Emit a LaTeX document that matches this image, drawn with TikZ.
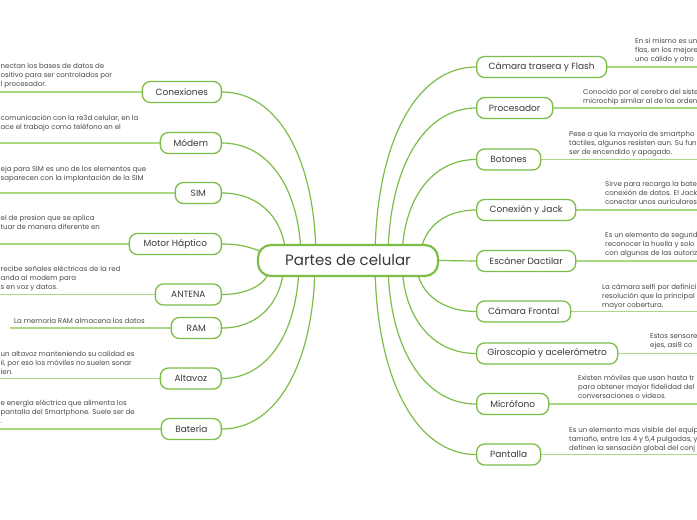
\documentclass[tikz,border=0pt]{standalone}
\usepackage{fontspec}
\setmainfont{Poppins}
\usetikzlibrary{calc,backgrounds}
\definecolor{mg}{RGB}{124,189,72}
\definecolor{lg}{RGB}{172,216,134}
\definecolor{tc}{RGB}{58,58,58}
\definecolor{dc}{RGB}{72,72,72}
\tikzset{
  rootbox/.style={draw=mg, line width=2.2pt, rounded corners=13pt, fill=white,
    minimum width=180pt, minimum height=31pt, font=\fontsize{15}{18}\selectfont, text=tc, inner sep=0pt},
  branch/.style={draw=mg, line width=1.3pt, rounded corners=8pt, fill=white,
    minimum height=21pt, font=\fontsize{9}{11}\selectfont, text=tc, inner sep=0pt},
  lbranch/.style={branch, anchor=east},
  rbranch/.style={branch, anchor=west},
  conn/.style={draw=mg, line width=1.2pt},
  descline/.style={draw=lg, line width=1.5pt},
  desc/.style={font=\fontsize{7}{9}\selectfont, text=dc, align=left, inner sep=0pt, anchor=north west},
}
\begin{document}
\begin{tikzpicture}[x=1pt,y=-1pt]
\useasboundingbox (0,0) rectangle (697,520);
\clip (0,0) rectangle (697,520);
\coordinate (L) at (0,0);
\coordinate (Lr) at (10,0);
\coordinate (R) at (697,0);

\node[rootbox] (root) at (348,260.5) {Partes de celular};

% left branches
\node[lbranch, minimum width=79pt] (l1) at (222,92) {Conexiones};
\node[lbranch, minimum width=61pt] (l2) at (222,143) {Módem};
\node[lbranch, minimum width=46pt] (l3) at (222,193) {SIM};
\node[lbranch, minimum width=92pt] (l4) at (222,244) {Motor Háptico};
\node[lbranch, minimum width=66pt] (l5) at (222,294.5) {ANTENA};
\node[lbranch, minimum width=50pt] (l6) at (222,328) {RAM};
\node[lbranch, minimum width=61pt] (l7) at (222,378.5) {Altavoz};
\node[lbranch, minimum width=60pt] (l8) at (222,429) {Batería};

% right branches
\node[rbranch, minimum width=130pt] (r1) at (476,67) {Cámara trasera y Flash};
\node[rbranch, minimum width=76pt] (r2) at (476,108) {Procesador};
\node[rbranch, minimum width=64pt] (r3) at (476,159.5) {Botones};
\node[rbranch, minimum width=99pt] (r4) at (476,210) {Conexión y Jack};
\node[rbranch, minimum width=99pt] (r5) at (476,261) {Escáner Dactilar};
\node[rbranch, minimum width=94pt] (r6) at (476,311.5) {Cámara Frontal};
\node[rbranch, minimum width=141pt] (r7) at (476,353.5) {Giroscopio y acelerómetro};
\node[rbranch, minimum width=72pt] (r8) at (476,404) {Micrófono};
\node[rbranch, minimum width=64pt] (r9) at (476,454.5) {Pantalla};

% left descriptions
\node[desc] (dl1) at (0.5,61.7) {\strut nectan los bases de  datos de\\ositivo para ser controlados por\\l procesador.};
\node[desc] (dl2) at (0.5,113.7) {\strut comunicación con la re3d celular, en la\\ace el trabajo como teléfono en el};
\node[desc] (dl3) at (0.5,164.7) {\strut eja  para SIM es uno de los elementos que\\saparecen con la implantación de la SIM};
\node[desc] (dl4) at (0.5,213.7) {\strut el de presion que se aplica\\tuar de manera diferente en};
\node[desc] (dl5) at (0.5,264.7) {\strut recibe señales eléctricas de la red\\anda al modem para\\s en voz y datos.};
\node[desc] (dl6) at (14,316.7) {\strut La memoria RAM almacena los datos};
\node[desc] (dl7) at (0.5,349.7) {\strut un altavoz manteniendo su calidad es\\il, por eso los móviles no suelen sonar\\ien.};
\node[desc] (dl8) at (0.5,398.7) {\strut e energía eléctrica que alimenta los\\ pantalla del Smartphone. Suele ser de\\.};

% right descriptions
\node[desc] (dr1) at (635,36.7) {\strut En si mismo es un\\flas, en los mejore\\uno cálido y otro};
\node[desc] (dr2) at (583,87.7) {\strut Conocido por el cerebro del siste\\microchip similar al de los orden};
\node[desc] (dr3) at (569,129.7) {\strut Pese a que la mayoria  de smartpho\\táctiles, algunos resisten aun. Su fun\\ser de encendido y apagado.};
\node[desc] (dr4) at (605,179.7) {\strut Sirve para recarga la bate\\conexión de datos. El Jack\\conectar unos auriculares.};
\node[desc] (dr5) at (605,230.7) {\strut Es un elemento de segurid\\reconocer la huella y solo\\con algunas de las autoriz};
\node[desc] (dr6) at (602,282.7) {\strut La cámara selfi por definici\\resolución que la principal\\mayor cobertura.};
\node[desc] (dr7) at (650,331.7) {\strut Estos sensore\\ejes, asi8 co};
\node[desc] (dr8) at (578,373.7) {\strut Existen móviles  que usan hasta tr\\para obtener mayor fidelidad del\\conversaciones o videos.};
\node[desc] (dr9) at (569,425.7) {\strut Es un  elemento mas visible del equip\\tamaño, entre las 4 y 5,4 pulgadas, y\\definen la sensación global del conj};

\begin{scope}[on background layer]
% connectors left
\draw[conn] ($(root.center)+(-32,0)$) .. controls (316,159.4) and (278.4,92) .. (l1.east);
\draw[conn] ($(root.center)+(-47,0)$) .. controls (301,190) and (269.4,143) .. (l2.east);
\draw[conn] ($(root.center)+(-62,0)$) .. controls (286,220) and (260.4,193) .. (l3.east);
\draw[conn] ($(root.center)+(-68,0)$) .. controls (255,247) and (240,244) .. (l4.east);
\draw[conn] ($(root.center)+(-76,0)$) .. controls (272,280.9) and (252,294.5) .. (l5.east);
\draw[conn] ($(root.center)+(-64,0)$) .. controls (284,301) and (259.2,328) .. (l6.east);
\draw[conn] ($(root.center)+(-49,0)$) .. controls (299,331.3) and (268.2,378.5) .. (l7.east);
\draw[conn] ($(root.center)+(-33,0)$) .. controls (315,361.6) and (277.8,429) .. (l8.east);
% connectors right
\draw[conn] ($(root.center)+(27,0)$) .. controls (375,144.4) and (415.4,67) .. (r1.west);
\draw[conn] ($(root.center)+(40,0)$) .. controls (388,169) and (423.2,108) .. (r2.west);
\draw[conn] ($(root.center)+(54,0)$) .. controls (402,199.9) and (431.6,159.5) .. (r3.west);
\draw[conn] ($(root.center)+(72,0)$) .. controls (420,230.2) and (442.4,210) .. (r4.west);
\draw[conn] (root.east) -- (r5.west);
\draw[conn] ($(root.center)+(68,0)$) .. controls (416,291.1) and (440,311.5) .. (r6.west);
\draw[conn] ($(root.center)+(54,0)$) .. controls (402,316.3) and (431.6,353.5) .. (r7.west);
\draw[conn] ($(root.center)+(40,0)$) .. controls (388,346.6) and (423.2,404) .. (r8.west);
\draw[conn] ($(root.center)+(27,0)$) .. controls (375,376.9) and (415.4,454.5) .. (r9.west);
% description lines
\draw[descline] (l1.west) -- (l1.west -| L);
\draw[descline] (l2.west) -- (l2.west -| L);
\draw[descline] (l3.west) -- (l3.west -| L);
\draw[descline] (l4.west) -- (l4.west -| L);
\draw[descline] (l5.west) -- (l5.west -| L);
\draw[descline] (l6.west) -- (l6.west -| Lr);
\draw[descline] (l7.west) -- (l7.west -| L);
\draw[descline] (l8.west) -- (l8.west -| L);
\draw[descline] (r1.east) -- (r1.east -| R);
\draw[descline] (r2.east) -- (r2.east -| R);
\draw[descline] (r3.east) -- (r3.east -| R);
\draw[descline] (r4.east) -- (r4.east -| R);
\draw[descline] (r5.east) -- (r5.east -| R);
\draw[descline] (r6.east) -- (r6.east -| R);
\draw[descline] (r7.east) -- (r7.east -| R);
\draw[descline] (r8.east) -- (r8.east -| R);
\draw[descline] (r9.east) -- (r9.east -| R);
\end{scope}
\end{tikzpicture}
\end{document}
